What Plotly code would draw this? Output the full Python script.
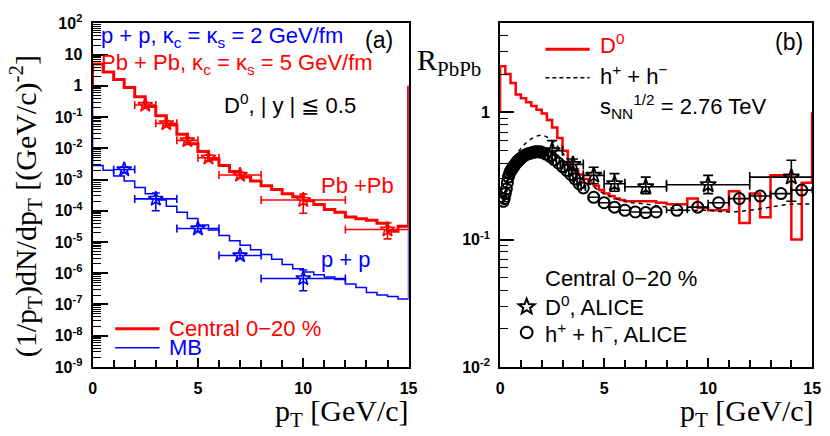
import numpy as np
import plotly.graph_objects as go

W, H = 830, 436

# ---------------- Panel (a): spectra ----------------
PT_EDGES_A = list(np.arange(0.0, 15.01, 0.5))
PBPB_CURVE = [5.0, 2.8, 1.6, 0.89, 0.45, 0.22, 0.11, 0.056, 0.028, 0.014,
              7.9e-3, 4.5e-3, 2.8e-3, 1.8e-3, 1.2e-3, 8.9e-4, 6.3e-4, 4.8e-4, 3.5e-4, 2.8e-4,
              2.1e-4, 1.6e-4, 1.1e-4, 8.9e-5, 6.3e-5, 5.5e-5, 5.0e-5, 4.0e-5, 2.2e-5, 3.2e-5]
PP_CURVE = [2.8e-3, 2.0e-3, 1.3e-3, 8.9e-4, 5.6e-4, 3.5e-4, 2.2e-4, 1.4e-4, 8.9e-5, 5.6e-5,
            3.5e-5, 2.4e-5, 1.6e-5, 1.1e-5, 7.9e-6, 5.6e-6, 4.0e-6, 2.8e-6, 1.9e-6, 1.4e-6,
            1.1e-6, 8.9e-7, 7.6e-7, 6.3e-7, 4.5e-7, 3.5e-7, 2.4e-7, 2.0e-7, 1.8e-7, 1.5e-7]
HIST_BASE = 1.0

PBPB_DATA_PT = [2.5, 3.5, 4.5, 5.5, 7.0, 10.0, 14.0]
PBPB_DATA_XERR = [0.5, 0.5, 0.5, 0.5, 1.0, 2.0, 2.0]
PBPB_DATA_Y = [0.245, 0.063, 0.018, 5.0e-3, 1.4e-3, 2.2e-4, 2.5e-5]
PBPB_DATA_EUP = [0.04, 0.01, 0.003, 1.0e-3, 3.0e-4, 1.2e-4, 1.6e-5]
PBPB_DATA_EDN = [0.04, 0.01, 0.003, 1.0e-3, 3.0e-4, 1.37e-4, 1.24e-5]

PP_DATA_PT = [1.5, 3.0, 5.0, 7.0, 10.0]
PP_DATA_XERR = [0.5, 1.0, 1.0, 1.0, 2.0]
PP_DATA_Y = [2.1e-3, 2.4e-4, 2.7e-5, 3.7e-6, 6.8e-7]
PP_DATA_EUP = [4.0e-4, 1.3e-4, 5.0e-6, 7.0e-7, 5.8e-7]
PP_DATA_EDN = [4.0e-4, 1.4e-4, 5.0e-6, 7.0e-7, 4.05e-7]

Y_TICKS_A = [1e-9, 1e-8, 1e-7, 1e-6, 1e-5, 1e-4, 1e-3, 1e-2, 1e-1, 1, 10, 100]
Y_TEXT_A = ["10<sup>-9</sup>", "10<sup>-8</sup>", "10<sup>-7</sup>", "10<sup>-6</sup>",
            "10<sup>-5</sup>", "10<sup>-4</sup>", "10<sup>-3</sup>", "10<sup>-2</sup>",
            "10<sup>-1</sup>", "1", "10", "10<sup>2</sup>"]

# ---------------- Panel (b): R_AA ----------------
PT_EDGES_B = list(np.arange(0.0, 6.0, 0.25)) + list(np.arange(6.0, 15.01, 0.5))
RAA_D0_CURVE = [2.3, 2.0, 1.7, 1.38, 1.29, 1.2, 1.12, 1.05, 0.98, 0.87,
                0.76, 0.63, 0.5, 0.4, 0.355, 0.325, 0.30, 0.28, 0.265, 0.245,
                0.23, 0.22, 0.21, 0.205,
                0.2, 0.2, 0.2, 0.195, 0.19, 0.19, 0.21, 0.178, 0.17, 0.17,
                0.24, 0.135, 0.23, 0.15, 0.32, 0.32, 0.1, 0.28]

RAA_H_PT = [0.1, 0.5, 1.0, 1.5, 2.0, 2.5, 3.0, 3.5, 4.0, 4.5, 5.0, 6.0, 7.0, 8.0,
            9.0, 10.0, 11.0, 12.0, 13.0, 14.0, 15.0]
RAA_H_CURVE = [0.30, 0.40, 0.52, 0.62, 0.66, 0.60, 0.48, 0.38, 0.30, 0.26, 0.23, 0.20,
               0.19, 0.18, 0.17, 0.17, 0.165, 0.17, 0.18, 0.19, 0.19]

ALICE_H_PT = [0.15, 0.2, 0.25, 0.3, 0.35, 0.4, 0.45, 0.5, 0.55, 0.6, 0.65, 0.7, 0.75, 0.8,
              0.85, 0.9, 0.95, 1.0, 1.1, 1.2, 1.3, 1.4, 1.5, 1.6, 1.7, 1.8, 1.9, 2.0,
              2.2, 2.4, 2.6, 2.8, 3.0, 3.2, 3.4, 3.6, 3.8, 4.0, 4.5, 5.0, 5.5, 6.0, 6.5,
              7.0, 7.5, 8.5, 9.5, 10.5, 11.5, 12.5, 13.5, 14.5]
ALICE_H_XERR = [0.025] * 18 + [0.05] * 10 + [0.1] * 10 + [0.25] * 7 + [0.5] * 7
ALICE_H_RAA = [0.20, 0.21, 0.23, 0.25, 0.28, 0.31, 0.33, 0.345, 0.355, 0.365, 0.375, 0.385,
               0.395, 0.405, 0.415, 0.42, 0.43, 0.435, 0.45, 0.46, 0.47, 0.475, 0.48, 0.485,
               0.49, 0.49, 0.49, 0.485, 0.47, 0.45, 0.425, 0.40, 0.375, 0.35, 0.325, 0.30,
               0.275, 0.255, 0.215, 0.195, 0.18, 0.17, 0.165, 0.163, 0.165, 0.17, 0.18,
               0.195, 0.21, 0.22, 0.23, 0.245]

ALICE_D_PT = [2.5, 3.5, 4.5, 5.5, 7.0, 10.0, 14.0]
ALICE_D_XERR = [0.5, 0.5, 0.5, 0.5, 1.0, 2.0, 2.0]
ALICE_D_RAA = [0.50, 0.39, 0.32, 0.275, 0.26, 0.27, 0.31]
ALICE_D_EUP = [0.10, 0.04, 0.05, 0.055, 0.05, 0.05, 0.11]
ALICE_D_EDN = [0.08, 0.04, 0.045, 0.035, 0.03, 0.04, 0.11]

Y_TICKS_B = [0.01, 0.1, 1]
Y_TEXT_B = ["10<sup>-2</sup>", "10<sup>-1</sup>", "1"]

RED = "#ff0000"
BLUE = "#0000ff"
SANS = "Liberation Sans, Arial, sans-serif"
SERIF = "Liberation Serif, Times New Roman, serif"


def hist_xy(edges, vals, base):
    xs = [edges[0], edges[0]] + list(edges[1:-1]) + [edges[-1], edges[-1]]
    ys = [base] + list(vals) + [vals[-1], base]
    return xs, ys


def px(x):
    return x / W


def py(y):
    return 1 - y / H


fig = go.Figure()

# Panel (a)
xr, yr = hist_xy(PT_EDGES_A, PP_CURVE, HIST_BASE)
fig.add_trace(go.Scatter(x=xr, y=yr, mode="lines", line=dict(color=BLUE, width=1.5, shape="hv"),
                         xaxis="x", yaxis="y", showlegend=False))
xr, yr = hist_xy(PT_EDGES_A, PBPB_CURVE, HIST_BASE)
fig.add_trace(go.Scatter(x=xr, y=yr, mode="lines", line=dict(color=RED, width=3, shape="hv"),
                         xaxis="x", yaxis="y", showlegend=False))
fig.add_trace(go.Scatter(
    x=PBPB_DATA_PT, y=PBPB_DATA_Y, mode="markers",
    marker=dict(symbol="star-open", size=11, color=RED, line=dict(width=1.6, color=RED)),
    error_x=dict(type="data", array=PBPB_DATA_XERR, color=RED, thickness=1.6, width=4),
    error_y=dict(type="data", array=PBPB_DATA_EUP, arrayminus=PBPB_DATA_EDN, color=RED,
                 thickness=1.6, width=4),
    xaxis="x", yaxis="y", showlegend=False))
fig.add_trace(go.Scatter(
    x=PP_DATA_PT, y=PP_DATA_Y, mode="markers",
    marker=dict(symbol="star-open", size=11, color=BLUE, line=dict(width=1.6, color=BLUE)),
    error_x=dict(type="data", array=PP_DATA_XERR, color=BLUE, thickness=1.6, width=4),
    error_y=dict(type="data", array=PP_DATA_EUP, arrayminus=PP_DATA_EDN, color=BLUE,
                 thickness=1.6, width=4),
    xaxis="x", yaxis="y", showlegend=False))

# Panel (b)
xr, yr = hist_xy(PT_EDGES_B, RAA_D0_CURVE, HIST_BASE)
fig.add_trace(go.Scatter(x=xr, y=yr, mode="lines", line=dict(color=RED, width=2.5, shape="hv"),
                         xaxis="x2", yaxis="y2", showlegend=False))
fig.add_trace(go.Scatter(x=RAA_H_PT, y=RAA_H_CURVE, mode="lines",
                         line=dict(color="black", width=1.5, dash="4px,4px", shape="spline"),
                         xaxis="x2", yaxis="y2", showlegend=False))
fig.add_trace(go.Scatter(
    x=ALICE_H_PT, y=ALICE_H_RAA, mode="markers",
    marker=dict(symbol="circle-open", size=11, color="black", line=dict(width=2, color="black")),
    error_x=dict(type="data", array=ALICE_H_XERR, color="black", thickness=1.6, width=3),
    xaxis="x2", yaxis="y2", showlegend=False))
fig.add_trace(go.Scatter(
    x=ALICE_D_PT, y=ALICE_D_RAA, mode="markers",
    marker=dict(symbol="star-open", size=12, color="black", line=dict(width=1.8, color="black")),
    error_x=dict(type="data", array=ALICE_D_XERR, color="black", thickness=1.6, width=5),
    error_y=dict(type="data", array=ALICE_D_EUP, arrayminus=ALICE_D_EDN, color="black",
                 thickness=1.6, width=5),
    xaxis="x2", yaxis="y2", showlegend=False))

ax_common = dict(showline=True, linecolor="black", linewidth=2, mirror=True, ticks="inside",
                 tickcolor="black", tickwidth=1.5, showgrid=False, zeroline=False,
                 ticklabeloverflow="allow",
                 tickfont=dict(family=SANS, size=16, color="black", weight="bold"))
ydom = [py(373), py(13)]

minor_a = []
for e in range(-9, 2):
    for m in range(2, 10):
        minor_a.append(m * 10.0 ** e)
minor_b = []
for e in range(-2, 1):
    for m in range(2, 10):
        minor_b.append(m * 10.0 ** e)

fig.update_layout(
    width=W, height=H, margin=dict(l=0, r=0, t=0, b=0),
    paper_bgcolor="white", plot_bgcolor="white",
    xaxis=dict(domain=[px(90), px(411)], range=[0, 15], anchor="y", tickmode="linear",
               tick0=0, dtick=5, ticklen=9, ticklabelstandoff=6,
               minor=dict(tickmode="linear", tick0=0, dtick=1, ticks="inside", ticklen=7,
                          tickwidth=1.5, tickcolor="black"),
               **ax_common),
    yaxis=dict(domain=ydom, type="log", range=[-9, 2], anchor="x", tickmode="array",
               tickvals=Y_TICKS_A, ticktext=Y_TEXT_A, ticklen=15, ticklabelstandoff=5,
               minor=dict(tickmode="array", tickvals=minor_a, ticks="inside", ticklen=8,
                          tickwidth=1.2, tickcolor="black"),
               **ax_common),
    xaxis2=dict(domain=[px(504), px(821)], range=[0, 15], anchor="y2", tickmode="linear",
                tick0=0, dtick=5, ticklen=9, ticklabelstandoff=6,
                minor=dict(tickmode="linear", tick0=0, dtick=1, ticks="inside", ticklen=7,
                           tickwidth=1.5, tickcolor="black"),
                **ax_common),
    yaxis2=dict(domain=ydom, type="log", range=[-2, np.log10(5)], anchor="x2",
                tickmode="array", tickvals=Y_TICKS_B, ticktext=Y_TEXT_B, ticklen=14,
                ticklabelstandoff=5,
                minor=dict(tickmode="array", tickvals=minor_b, ticks="inside", ticklen=8,
                           tickwidth=1.2, tickcolor="black"),
                **ax_common),
)


def txt(x, y, s, color="black", size=22, family=SANS, xanchor="left", angle=0):
    fig.add_annotation(x=px(x), y=py(y), xref="paper", yref="paper", text=s, showarrow=False,
                       xanchor=xanchor, yanchor="middle", textangle=angle, borderpad=0,
                       font=dict(family=family, size=size, color=color))


# panel (a) texts
txt(98, 27, "p + p, κ<sub>c</sub> = κ<sub>s</sub> = 2 GeV/fm", BLUE)
txt(366, 30, "(a)", "black", 23)
txt(98, 56, "Pb + Pb, κ<sub>c</sub> = κ<sub>s</sub> = 5 GeV/fm", RED)
txt(222, 97, "D<sup>0</sup>, | y | ≦ 0.5", "black")
txt(321, 183, "Pb +Pb", RED)
txt(321, 260, "p + p", BLUE)
txt(167, 333, "Central 0−20 %", RED)
txt(167, 353, "MB", BLUE)
fig.add_shape(type="line", xref="paper", yref="paper", x0=px(113), x1=px(158), y0=py(333),
              y1=py(333), line=dict(color=RED, width=3))
fig.add_shape(type="line", xref="paper", yref="paper", x0=px(113), x1=px(158), y0=py(353),
              y1=py(353), line=dict(color=BLUE, width=1.5))
txt(22, 205, "(1/p<sub>T</sub>)dN/dp<sub>T</sub> [(GeV/c)<sup>-2</sup>]", "black", 30, SERIF,
    "center", -90)
txt(412, 421, "p<sub>T</sub> [GeV/c]", "black", 30, SERIF, "right")

# panel (b) texts
txt(419, 53, "R<sub>PbPb</sub>", "black", 30, SERIF)
txt(604, 35, "D<sup>0</sup>", RED)
txt(604, 67, "h<sup>+</sup> + h<sup>−</sup>", "black")
txt(604, 100, "s<sub>NN</sub><sup>1/2</sup> = 2.76 TeV", "black")
txt(782, 32, "(b)", "black", 23)
txt(824, 421, "p<sub>T</sub> [GeV/c]", "black", 30, SERIF, "right")
fig.add_shape(type="line", xref="paper", yref="paper", x0=px(550), x1=px(595), y0=py(40),
              y1=py(40), line=dict(color=RED, width=3))
fig.add_shape(type="line", xref="paper", yref="paper", x0=px(550), x1=px(595), y0=py(70),
              y1=py(70), line=dict(color="black", width=1.5, dash="4px,3px"))
txt(549, 280, "Central 0−20 %", "black")

# legend symbols (star outline and circle) drawn as decoration
cx, cy, r_out, r_in = 531, 310, 8.5, 3.6
pts = []
for k in range(10):
    ang = np.pi / 2 + k * np.pi / 5
    rr = r_out if k % 2 == 0 else r_in
    pts.append((px(cx + rr * np.cos(ang)), py(cy - rr * np.sin(ang))))
star_path = "M " + " L ".join(f"{a:.5f},{b:.5f}" for a, b in pts) + " Z"
fig.add_shape(type="path", xref="paper", yref="paper", path=star_path,
              line=dict(color="black", width=2))
txt(549, 309, "D<sup>0</sup>, ALICE", "black")
fig.add_shape(type="circle", xref="paper", yref="paper", x0=px(525), x1=px(537), y0=py(343),
              y1=py(331), line=dict(color="black", width=2))
txt(549, 337, "h<sup>+</sup> + h<sup>−</sup>, ALICE", "black")

fig.write_html("out.html", config={"displayModeBar": False},
               post_script="document.body.style.margin='0';")
